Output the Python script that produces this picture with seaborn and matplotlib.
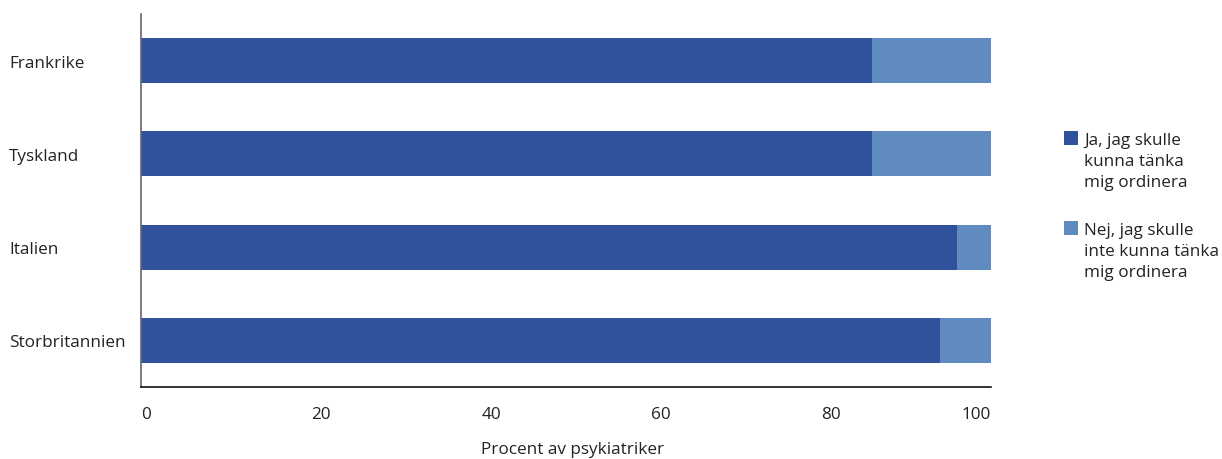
import matplotlib
matplotlib.use("Agg")
import matplotlib.pyplot as plt
import matplotlib.transforms as mtransforms
from matplotlib.patches import Rectangle
import seaborn as sns
import pandas as pd

# Survey data: share of psychiatrists per country
countries = ["Frankrike", "Tyskland", "Italien", "Storbritannien"]
ja_values = [86, 86, 96, 94]
nej_values = [14, 14, 4, 6]
x_ticks = [0, 20, 40, 60, 80, 100]
legend_labels = ["Ja, jag skulle\nkunna tänka\nmig ordinera",
                 "Nej, jag skulle\ninte kunna tänka\nmig ordinera"]

DARK = "#30519b"
LIGHT = "#5f8bc0"
TEXT = "#222222"
FS = 12.3

sns.set_theme(style="white")
plt.rcParams["font.family"] = ["Open Sans", "DejaVu Sans"]
plt.rcParams["font.size"] = FS

df = pd.DataFrame({
    "land": countries,
    "ja": ja_values,
    "total": [a + b for a, b in zip(ja_values, nej_values)],
})

fig = plt.figure(figsize=(12.22, 4.6), dpi=100)
ax = fig.add_axes([141 / 1222, 1 - 388 / 460, 850 / 1222, 373 / 460])

# Stacked bars: full length (Nej on top of Ja) first, then the Ja part
sns.barplot(data=df, x="total", y="land", orient="h", color=LIGHT,
            saturation=1, width=0.48, linewidth=0, ax=ax)
sns.barplot(data=df, x="ja", y="land", orient="h", color=DARK,
            saturation=1, width=0.48, linewidth=0, ax=ax)

ax.set_xlim(0, 100)
ax.set_ylim(len(countries) - 0.5, -0.5)
ax.set_ylabel("")
ax.set_xlabel("Procent av psykiatriker", fontsize=FS, color=TEXT)
ax.xaxis.label.set_verticalalignment("center")
ax.xaxis.set_label_coords(0.508, -(450 - 388) / 373)

for side in ["top", "right"]:
    ax.spines[side].set_visible(False)
ax.spines["left"].set_color("#666666")
ax.spines["left"].set_linewidth(1.2)
ax.spines["bottom"].set_color("#111111")
ax.spines["bottom"].set_linewidth(1.2)

ax.tick_params(axis="both", length=0)

# x tick labels: end labels aligned to the axis ends, inner ones nudged right
ax.set_xticks(x_ticks)
ax.set_xticklabels([str(v) for v in x_ticks], fontsize=FS, color=TEXT)
ax.tick_params(axis="x", pad=14)
nudge = mtransforms.ScaledTranslation(10 / 100, 0, fig.dpi_scale_trans)
labels = ax.get_xticklabels()
for i, lab in enumerate(labels):
    if i == 0:
        lab.set_horizontalalignment("left")
    elif i == len(labels) - 1:
        lab.set_horizontalalignment("right")
    else:
        lab.set_transform(lab.get_transform() + nudge)

# y tick labels left aligned near the figure edge
ax.set_yticks(range(len(countries)))
ax.set_yticklabels(countries, fontsize=FS, color=TEXT)
for lab in ax.get_yticklabels():
    lab.set_horizontalalignment("left")
    lab.set_transform(mtransforms.blended_transform_factory(
        fig.transFigure, ax.transData) +
        mtransforms.ScaledTranslation(9 / 100, 0, fig.dpi_scale_trans))

# Legend: square swatch beside the first line of each wrapped label
def px(x, y):
    return x / 1222, 1 - y / 460

for (ytop, color, text) in [(132, DARK, legend_labels[0]),
                            (222, LIGHT, legend_labels[1])]:
    x0, y0 = px(1064, ytop + 14)
    fig.add_artist(Rectangle((x0, y0), 14 / 1222, 14 / 460,
                             transform=fig.transFigure, color=color, lw=0))
    tx, ty = px(1084, ytop + 1)
    fig.text(tx, ty, text, ha="left", va="top", fontsize=FS, color=TEXT,
             linespacing=1.42)

fig.savefig("out.png", dpi=100)
